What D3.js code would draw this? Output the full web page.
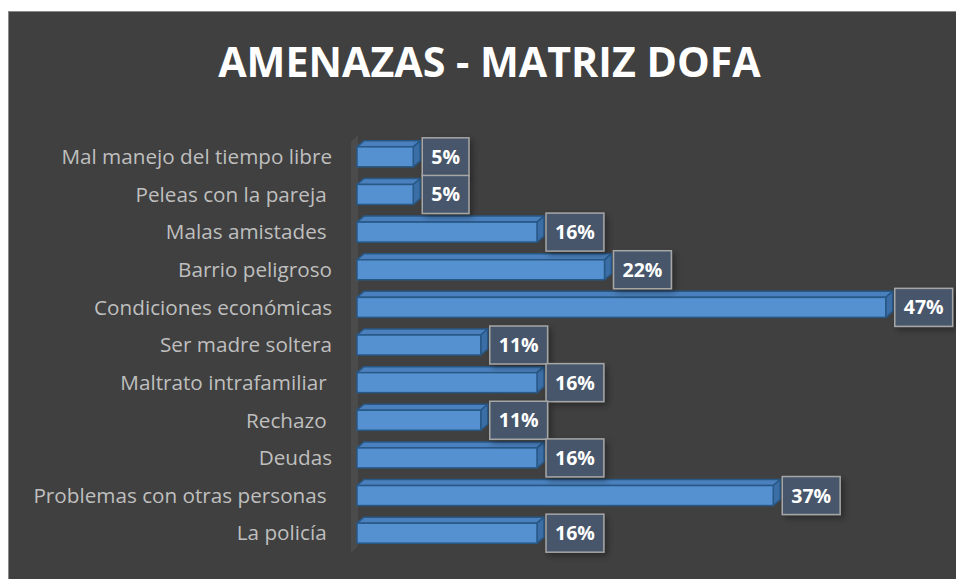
<!DOCTYPE html>
<html><head><meta charset="utf-8">
<script src="https://cdn.jsdelivr.net/npm/d3@7"></script>
<style>
html,body{margin:0;padding:0;background:#fff;}
svg{display:block;}
</style></head>
<body>
<script>
const categories = ["Mal manejo del tiempo libre","Peleas con la pareja ","Malas amistades ","Barrio peligroso","Condiciones económicas","Ser madre soltera","Maltrato intrafamiliar ","Rechazo ","Deudas","Problemas con otras personas ","La policía "];
const values = [5,5,16,22,47,11,16,11,16,37,16];
const valueLabels = ["5%","5%","16%","22%","47%","11%","16%","11%","16%","37%","16%"];
const title = "AMENAZAS - MATRIZ DOFA";

const W = 956, H = 579;
const svg = d3.select("body").append("svg").attr("width", W).attr("height", H);

svg.append("rect").attr("x", 8.5).attr("y", 11.5).attr("width", W).attr("height", H)
  .attr("fill", "#404040").attr("stroke", "#8a8a8a").attr("stroke-width", 1);

svg.append("text").attr("x", 489.5).attr("y", 77).attr("text-anchor", "middle")
  .attr("font-family", "Open Sans").attr("font-weight", "bold").attr("font-size", 41.2)
  .attr("fill", "#ffffff").text(title);

const x = d3.scaleLinear().domain([0, 50]).range([357, 357 + 562.5]);
const y = d3.scaleBand().domain(categories).range([138, 552]).paddingInner(0.47).paddingOuter(0.235);

const dx = 7, dy = 6;
const defs = svg.append("defs");
const f = defs.append("filter").attr("id", "sh").attr("x", "-20%").attr("y", "-20%").attr("width", "160%").attr("height", "160%");
f.append("feDropShadow").attr("dx", 3).attr("dy", 3).attr("stdDeviation", 3).attr("flood-color", "#000").attr("flood-opacity", 0.35);

// back wall
const y0w = y.range()[0], y1w = y.range()[1];
svg.append("polygon")
  .attr("points", [[x(0) - 6, y1w + 1], [x(0) - 6, y0w + 4], [x(0) + 1, y0w - 3], [x(0) + 1, y1w - 6]].map(p => p.join(",")).join(" "))
  .attr("fill", "#4b4b4b");

// y axis labels
svg.append("g").selectAll("text").data(categories).join("text")
  .attr("x", 332).attr("y", d => y(d) + y.bandwidth() / 2)
  .attr("dy", "0.35em").attr("text-anchor", "end")
  .attr("font-family", "Open Sans").attr("font-size", 20.7)
  .attr("fill", "#bfbfbf").style("white-space", "pre").text(d => d);

const bars = svg.append("g").selectAll("g").data(categories).join("g");
bars.each(function (d, i) {
  const g = d3.select(this);
  const x0 = x(0), x1 = x(values[i]);
  const yc = y(d) + y.bandwidth() / 2;
  const t = yc - 10, b = yc + 10;
  g.append("polygon").attr("points", [[x0, t], [x0 + dx, t - dy], [x1 + dx, t - dy], [x1, t]].map(p => p.join(",")).join(" "))
    .attr("fill", "#4a80bd").attr("stroke", "#285886").attr("stroke-width", 1.5).attr("stroke-linejoin", "round");
  g.append("polygon").attr("points", [[x1, t], [x1 + dx, t - dy], [x1 + dx, b - dy], [x1, b]].map(p => p.join(",")).join(" "))
    .attr("fill", "#3b6ea6").attr("stroke", "#285886").attr("stroke-width", 1.5).attr("stroke-linejoin", "round");
  g.append("rect").attr("x", x0).attr("y", t).attr("width", x1 - x0).attr("height", b - t)
    .attr("fill", "#5591d1").attr("stroke", "#285886").attr("stroke-width", 1.5);
});

// data labels
const lab = svg.append("g").selectAll("g").data(categories).join("g");
lab.each(function (d, i) {
  const g = d3.select(this);
  const yc = y(d) + y.bandwidth() / 2;
  const bx = x(values[i]) + 9;
  const r = g.append("rect");
  const tx = g.append("text").attr("x", bx + 9).attr("y", yc).attr("dy", "0.36em")
    .attr("font-family", "Open Sans").attr("font-weight", "bold").attr("font-size", 19.5)
    .attr("fill", "#ffffff").text(valueLabels[i]);
  const w = tx.node().getComputedTextLength() + 18;
  r.attr("x", bx).attr("y", yc - 19).attr("width", w).attr("height", 38)
    .attr("fill", "#46566b").attr("stroke", "#a6a6a6").attr("stroke-width", 1.5).attr("filter", "url(#sh)");
});
</script>
</body></html>
